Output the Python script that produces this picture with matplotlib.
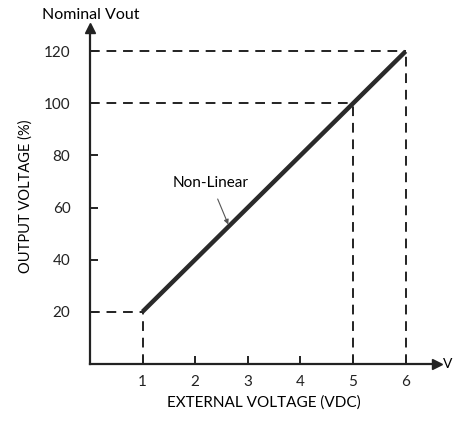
import matplotlib
matplotlib.use("Agg")
import matplotlib.pyplot as plt

plt.rcParams['font.family'] = ['Lato', 'DejaVu Sans']

# data
ext_v = [1, 6]
out_pct = [20, 120]
ref_x = [1, 5, 6]
ref_y = [20, 100, 120]
xticks = [1, 2, 3, 4, 5, 6]
yticks = [20, 40, 60, 80, 100, 120]

fig = plt.figure(figsize=(4.54, 4.23), dpi=100)
ax = fig.add_axes([0.198, 0.14, 0.765, 0.794])
ax.set_xlim(0, 6.6)
ax.set_ylim(0, 129)

for x, y in zip(ref_x, ref_y):
    ax.plot([0, x], [y, y], color='#222222', lw=1.4, ls=(0, (5, 3.5)))
    ax.plot([x, x], [0, y], color='#222222', lw=1.4, ls=(0, (5, 3.5)))

ax.plot(ext_v, out_pct, color='#2a2a2a', lw=3.2, solid_capstyle='butt')

ax.annotate('Non-Linear', xy=(2.63, 53.5), xytext=(2.3, 69.5),
            ha='center', va='center', fontsize=11,
            arrowprops=dict(arrowstyle='-|>', color='#555555', lw=0.8,
                            mutation_scale=7, shrinkA=5, shrinkB=0))

for s in ['top', 'right']:
    ax.spines[s].set_visible(False)
for s in ['left', 'bottom']:
    ax.spines[s].set_linewidth(1.6)
    ax.spines[s].set_color('#222222')

ax.plot(0, 1, '^', transform=ax.transAxes, clip_on=False, color='#222222', ms=7)
ax.plot(1, 0, '>', transform=ax.transAxes, clip_on=False, color='#222222', ms=7)

ax.set_xticks(xticks)
ax.set_yticks(yticks)
ax.tick_params(direction='in', length=6, width=1.4, labelsize=11, colors='#222222', pad=8)
ax.tick_params(axis='y', pad=14)

ax.set_xlabel('EXTERNAL VOLTAGE (VDC)', fontsize=11, labelpad=5)
ax.set_ylabel('OUTPUT VOLTAGE (%)', fontsize=10.5, labelpad=8)
fig.text(0.2, 0.965, 'Nominal Vout', ha='center', va='center', fontsize=11.5)
fig.text(0.976, 0.14, 'V', ha='left', va='center', fontsize=10)

fig.savefig('out.png', dpi=100)
